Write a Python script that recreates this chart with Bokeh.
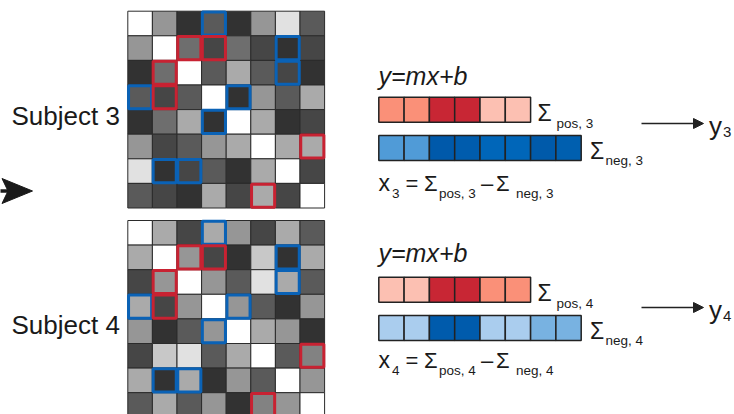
from bokeh.plotting import figure
from bokeh.models import Range1d, Arrow, NormalHead
from bokeh.core.properties import value
from bokeh.embed import file_html
from bokeh.resources import INLINE

# ---------------- data ----------------
subject_ids = ["3", "4"]

# connectivity matrices (grey level 0-255), symmetric, white diagonal
conn_s3 = [
    [255, 150, 50, 90, 50, 150, 225, 90],
    [150, 255, 110, 70, 110, 70, 50, 70],
    [50, 110, 255, 90, 170, 90, 70, 50],
    [90, 70, 90, 255, 50, 150, 90, 170],
    [50, 110, 170, 50, 255, 170, 50, 70],
    [150, 70, 90, 150, 170, 255, 170, 170],
    [225, 50, 70, 90, 50, 170, 255, 70],
    [90, 70, 50, 170, 70, 170, 70, 255],
]
conn_s4 = [
    [255, 170, 70, 170, 150, 70, 170, 90],
    [170, 255, 150, 70, 50, 200, 50, 170],
    [70, 150, 255, 150, 90, 225, 170, 90],
    [170, 70, 150, 255, 150, 90, 50, 150],
    [150, 50, 90, 150, 255, 170, 150, 50],
    [70, 200, 225, 90, 170, 255, 90, 130],
    [170, 50, 170, 50, 150, 90, 255, 150],
    [90, 170, 90, 150, 50, 130, 150, 255],
]
# selected edges (row, col)
pos_edges = [(1, 2), (1, 3), (5, 7)]
neg_edges = [(0, 3), (1, 6), (2, 6), (3, 4)]

# edge strength colours in the summary bars
pos_colors_s3 = ["#FA9078", "#FA9078", "#C82634", "#C82634", "#FCC0B2", "#FCC0B2"]
neg_colors_s3 = ["#509BD7", "#509BD7", "#0059AA", "#005CAD", "#0066B9", "#0066B9", "#005AAA", "#005FAF"]
pos_colors_s4 = ["#FCC0B2", "#FCC0B2", "#C82634", "#C82634", "#FA9078", "#FA9078"]
neg_colors_s4 = ["#AACDEE", "#AACDEE", "#005BAC", "#005BAC", "#AACDEE", "#AACDEE", "#78B2E1", "#78B2E1"]

matrices = [conn_s3, conn_s4]
pos_colors = [pos_colors_s3, pos_colors_s4]
neg_colors = [neg_colors_s3, neg_colors_s4]

# ---------------- layout ----------------
W, H = 734, 414
FONT = value("Liberation Sans")
INK = "#1a1a1a"
BLUE = "#0A62B6"
RED = "#C82232"

mat_x0 = 127.3
mat_y0 = [10.7, 220.0]
cell = 24.6

bar_x0 = 378.3
bar_cell = 25.3
bar_h = 25.0
bar_dy = [0.0, 180.0]
text_dy = [0.0, 177.0]
arrow_y = [123.0, 307.0]
ylab_dy = [0.0, 184.0]
subj_base = [121.7, 331.0]
SUB = 13.5
BASE_FIX = 0.25  # renderer places alphabetic baseline a little low

p = figure(width=W, height=H, x_range=Range1d(0, W), y_range=Range1d(H, 0),
           output_backend="svg", toolbar_location=None, min_border=0,
           x_axis_type=None, y_axis_type=None, outline_line_color=None,
           background_fill_color="white", border_fill_color="white")
p.grid.visible = False


def txt(x, y, s, size, style="normal"):
    p.text(x=[x], y=[y - BASE_FIX * size], text=[s], text_font=FONT,
           text_font_size=f"{size}px", text_baseline="alphabetic",
           text_align="left", text_color=INK, text_font_style=style)


for k, sid in enumerate(subject_ids):
    M = matrices[k]
    n = len(M)
    xs, ys, cols = [], [], []
    for i in range(n):
        for j in range(n):
            g = int(M[i][j])
            xs.append(mat_x0 + (j + 0.5) * cell)
            ys.append(mat_y0[k] + (i + 0.5) * cell)
            cols.append("#%02x%02x%02x" % (g, g, g))
    p.rect(x=xs, y=ys, width=cell, height=cell, fill_color=cols,
           line_color="#2b2b2b", line_width=1)

    for edges, colr in ((neg_edges, BLUE), (pos_edges, RED)):
        hx, hy = [], []
        for (i, j) in edges:
            for (a, b) in ((i, j), (j, i)):
                hx.append(mat_x0 + (b + 0.5) * cell)
                hy.append(mat_y0[k] + (a + 0.5) * cell)
        p.rect(x=hx, y=hy, width=cell - 1.5, height=cell - 1.5, fill_alpha=0,
               line_color=colr, line_width=3)

    # summary bars
    pos_top = 96.7 + bar_dy[k]
    neg_top = 135.0 + bar_dy[k]
    pc = pos_colors[k]
    nc = neg_colors[k]
    p.rect(x=[bar_x0 + (c + 0.5) * bar_cell for c in range(len(pc))],
           y=[pos_top + bar_h / 2] * len(pc), width=bar_cell, height=bar_h,
           fill_color=pc, line_color="#222222", line_width=1.5)
    p.rect(x=[bar_x0 + (c + 0.5) * bar_cell for c in range(len(nc))],
           y=[neg_top + bar_h / 2] * len(nc), width=bar_cell, height=bar_h,
           fill_color=nc, line_color="#222222", line_width=1.5)

    # texts
    txt(11.0, subj_base[k], f"Subject {sid}", 26)
    td = text_dy[k]
    bd = bar_dy[k]
    txt(378.0, 81.7 + td, "y=mx+b", 25, "italic")
    # sigma labels beside bars
    txt(537.0, 118.5 + bd, "\u03a3", 23)
    txt(556.0, 126.7 + bd, f"pos, {sid}", SUB)
    txt(589.5, 156.5 + bd, "\u03a3", 23)
    txt(605.0, 163.5 + bd, f"neg, {sid}", SUB)
    # x = ... line
    xb = 188.3 + td
    sb = 196.5 + td
    txt(378.0, xb, "x", 23)
    txt(391.5, sb, sid, SUB)
    txt(405.0, xb, "=", 22)
    txt(423.5, xb, "\u03a3", 22)
    txt(438.5, sb, f"pos, {sid}", SUB)
    txt(480.5, xb, "\u2013", 22)
    txt(495.5, xb, "\u03a3", 22)
    txt(515.5, sb, f"neg, {sid}", SUB)
    # arrow to outcome
    ay = arrow_y[k]
    p.add_layout(Arrow(end=NormalHead(size=10, fill_color="#222222", line_color="#222222"),
                       x_start=641.0, y_start=ay, x_end=703.0, y_end=ay,
                       line_color="#222222", line_width=1.5))
    yd = ylab_dy[k]
    txt(708.5, 131.5 + yd, "y", 26)
    txt(722.5, 135.5 + yd, sid, 15)

# incoming arrow at left
p.line(x=[-5, 10], y=[190.5, 190.5], line_color="#1a1a1a", line_width=3.5)
p.patch(x=[1.5, 32.0, 1.5, 7.5], y=[178.0, 190.5, 203.0, 190.5],
        fill_color="#1a1a1a", line_color="#1a1a1a", line_width=1)

open("out.html", "w").write(file_html(p, INLINE))
